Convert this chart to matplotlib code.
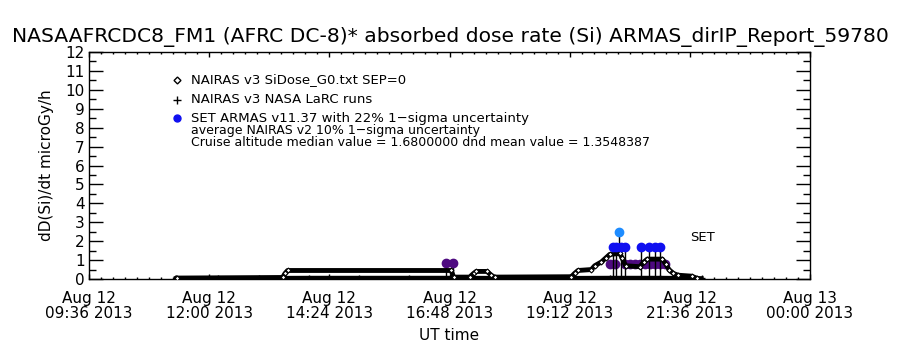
import matplotlib as mpl
mpl.use('Agg')
import matplotlib.pyplot as plt
from matplotlib.ticker import MultipleLocator, AutoMinorLocator
import pandas as pd

mpl.rcParams['font.family'] = ['DejaVu Sans']
mpl.rcParams['font.size'] = 11

day = '2013-08-12 '

# NAIRAS v3 SiDose_G0.txt SEP=0 (diamonds)
sidose_time = ['11:22', '13:28', '13:31', '13:34', '16:50', '16:53', '17:12',
               '17:17', '17:20', '17:33', '17:38', '17:42', '19:14', '19:18',
               '19:22', '19:38', '19:42', '19:50', '19:55', '20:00', '20:12',
               '20:15', '20:19', '20:36', '20:41', '20:45', '21:03', '21:07',
               '21:11', '21:16', '21:22', '21:38', '21:44']
sidose_val = [0.05, 0.08, 0.3, 0.45, 0.45, 0.1, 0.1,
              0.3, 0.4, 0.4, 0.2, 0.1, 0.12, 0.3,
              0.45, 0.5, 0.7, 0.9, 1.1, 1.3, 1.35,
              1.1, 0.7, 0.65, 0.9, 1.05, 1.05, 0.8,
              0.5, 0.3, 0.2, 0.15, 0.05]

# NAIRAS v3 NASA LaRC runs (plus)
larc_time = ['11:20', '12:10', '13:00', '14:00', '15:00', '16:00', '17:00',
             '18:00', '19:00', '20:00', '21:00', '21:50']
larc_val = [0.04, 0.05, 0.05, 0.06, 0.06, 0.06, 0.06,
            0.05, 0.05, 0.06, 0.06, 0.04]

# SET ARMAS v11.37
armas_time = ['20:04', '20:08', '20:13', '20:18', '20:38', '20:47', '20:54', '21:00']
armas_val = [1.7, 1.7, 1.7, 1.7, 1.7, 1.7, 1.7, 1.7]
armas_peak_time = ['20:11']
armas_peak_val = [2.5]

# average NAIRAS v2
nv2_time = ['16:44', '16:52', '20:00', '20:06', '20:18', '20:24', '20:30',
            '20:36', '20:42', '20:48', '20:54', '21:00', '21:06']
nv2_val = [0.85, 0.85, 0.8, 0.8, 0.8, 0.8, 0.8,
           0.8, 0.8, 0.8, 0.8, 0.8, 0.8]

tick_time = ['2013-08-12 09:36', '2013-08-12 12:00', '2013-08-12 14:24',
             '2013-08-12 16:48', '2013-08-12 19:12', '2013-08-12 21:36',
             '2013-08-13 00:00']
tick_labels = ['Aug 12\n09:36 2013', 'Aug 12\n12:00 2013', 'Aug 12\n14:24 2013',
               'Aug 12\n16:48 2013', 'Aug 12\n19:12 2013', 'Aug 12\n21:36 2013',
               'Aug 13\n00:00 2013']

title = 'NASAAFRCDC8_FM1 (AFRC DC-8)* absorbed dose rate (Si) ARMAS_dirIP_Report_59780'


def to_dt(times):
    return pd.to_datetime([day + t for t in times])


fig = plt.figure(figsize=(9, 3.5), dpi=100)
ax = fig.add_axes([89 / 900, 1 - 279 / 350, 721 / 900, 227 / 350])

t_nv2 = to_dt(nv2_time)
ax.vlines(t_nv2[:2], 0.1, nv2_val[:2], color='k', lw=1, zorder=2)
ax.plot(t_nv2, nv2_val, 'o', color='#4e0a80', ms=6, zorder=2)

ax.plot(to_dt(larc_time), larc_val, '+-', color='k', lw=3, ms=5, zorder=3)
ax.plot(to_dt(sidose_time), sidose_val, '-', color='k', lw=3.5, zorder=3)
ax.plot(to_dt(sidose_time), sidose_val, 'D', color='k', mfc='white', mew=0.8,
        ms=2.5, zorder=4)

t_armas = to_dt(armas_time)
ax.vlines(t_armas, 0.1, armas_val, color='k', lw=1, zorder=2)
t_peak = to_dt(armas_peak_time)
ax.vlines(t_peak, 1.7, armas_peak_val, color='k', lw=1, zorder=2)
ax.plot(t_armas, armas_val, 'o', color='#1010f0', ms=6, zorder=5)
ax.plot(t_peak, armas_peak_val, 'o', color='#1e8cff', ms=6, zorder=5)

ax.set_xlim(pd.Timestamp(tick_time[0]), pd.Timestamp(tick_time[-1]))
ax.set_ylim(0, 12)
ax.set_xticks(pd.to_datetime(tick_time))
ax.set_xticklabels(tick_labels, linespacing=1.0)
ax.xaxis.set_minor_locator(AutoMinorLocator(10))
ax.yaxis.set_major_locator(MultipleLocator(1))
ax.yaxis.set_minor_locator(MultipleLocator(0.5))
ax.tick_params(which='both', direction='in', top=True, right=True, width=1)
ax.tick_params(axis='x', which='major', length=3.3, pad=9)
ax.tick_params(axis='x', which='minor', length=1.7)
ax.tick_params(axis='y', which='major', length=10.4, pad=3)
ax.tick_params(axis='y', which='minor', length=5.2)
for s in ax.spines.values():
    s.set_linewidth(1)

ax.set_xlabel('UT time', labelpad=5)
ax.set_ylabel('dD(Si)/dt microGy/h', labelpad=8)
fig.text(0.5, 1 - 37 / 350, title, ha='center', va='center', fontsize=14.6)

# legend block
ax.plot([0.122], [0.877], 'D', color='k', mfc='white', ms=3.5, mew=1,
        transform=ax.transAxes, clip_on=False)
ax.plot([0.122], [0.789], '+', color='k', ms=6, mew=1,
        transform=ax.transAxes, clip_on=False)
ax.plot([0.122], [0.709], 'o', color='#1010f0', ms=5,
        transform=ax.transAxes, clip_on=False)
fs = 9.5
ax.text(0.1415, 0.877, 'NAIRAS v3 SiDose_G0.txt SEP=0', transform=ax.transAxes,
        va='center', fontsize=fs)
ax.text(0.1415, 0.789, 'NAIRAS v3 NASA LaRC runs', transform=ax.transAxes,
        va='center', fontsize=fs)
ax.text(0.1415, 0.709, 'SET ARMAS v11.37 with 22% 1\u2212sigma uncertainty',
        transform=ax.transAxes, va='center', fontsize=fs)
ax.text(0.1415, 0.655, 'average NAIRAS v2 10% 1\u2212sigma uncertainty',
        transform=ax.transAxes, va='center', fontsize=9)
ax.text(0.1415, 0.603,
        'Cruise altitude median value = 1.6800000 dnd mean value = 1.3548387',
        transform=ax.transAxes, va='center', fontsize=9)
ax.text(0.834, 0.185, 'SET', transform=ax.transAxes, va='center', fontsize=fs)

fig.savefig('out.png', dpi=100)
